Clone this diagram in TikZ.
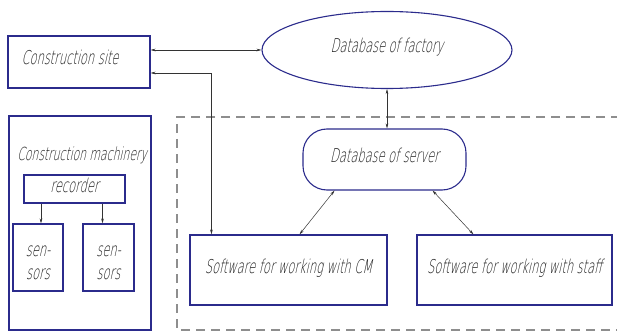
\documentclass[tikz,border=0pt]{standalone}
\usepackage{fontspec}
\usetikzlibrary{shapes.geometric,arrows.meta,calc}
\newfontfamily\gost[FakeStretch=0.6,FakeSlant=0.22]{DejaVu Sans ExtraLight}
\definecolor{boxblue}{HTML}{2B2B8C}
\definecolor{txtgray}{HTML}{1E1E1E}
\definecolor{dashgray}{HTML}{8E8E8E}
\tikzset{
  lbl/.style={font=\gost\fontsize{19}{23}\selectfont, text=txtgray},
  up/.style={text height=13pt, text depth=7pt},
  box/.style={draw=boxblue, line width=1.1pt, rectangle, inner sep=0pt, lbl},
  link/.style={draw=black!80, line width=0.5pt, {Stealth[length=5pt,width=2.6pt]}-{Stealth[length=5pt,width=2.6pt]}},
  onearr/.style={draw=black!80, line width=0.5pt, -{Stealth[length=5pt,width=2.6pt]}},
}
\newcommand\twoline[2]{\raisebox{-10pt}[0pt][0pt]{\begin{tabular}{@{}c@{}}#1\\#2\end{tabular}}}
\begin{document}
\begin{tikzpicture}[x=1pt,y=-1pt]
\useasboundingbox (0,0) rectangle (617,331);
% server-side area
\draw[dashgray, line width=1.3pt, dash pattern=on 9pt off 6pt]
  (620,117) -- (177,117) -- (177,330) -- (620,330);
% left column
\node[box, minimum width=142pt, minimum height=52pt] (site) at (79,62) {};
\node[lbl, up] (sitetitle) at (70,62) {Construction site};
\node[box, minimum width=142pt, minimum height=214pt] (mach) at (80,223) {};
\node[lbl, up, font=\gost\fontsize{18}{22}\selectfont] (machtitle) at (82,157) {Construction machinery};
\node[box, up, minimum width=101pt, minimum height=28pt] (rec) at (74.5,189) {recorder};
\node[box, minimum width=50pt, minimum height=67pt] (s1) at (38,257.5) {\twoline{sen-}{sors}};
\node[box, minimum width=51pt, minimum height=67pt] (s2) at (108.5,257.5) {\twoline{sen-}{sors}};
% databases and software
\node[box, up, ellipse, minimum width=250pt, minimum height=77pt] (fact) at (387,50) {Database of factory};
\node[box, up, rounded corners=24pt, minimum width=163pt, minimum height=61pt] (serv) at (384.5,159.5) {Database of server};
\node[box, up, minimum width=197pt, minimum height=70pt] (cm) at (288.5,270) {Software for working with CM};
\node[box, up, minimum width=195pt, minimum height=70pt] (staff) at (514.5,270) {Software for working with staff};
% connection points
\coordinate (s1top) at ($(s1.north)+(3,0)$);
\coordinate (s2top) at ($(s2.north)+(-6,0)$);
\coordinate (sitelow) at ($(site.east)+(0,11)$);
\coordinate (cmtop) at ($(cm.north west)+(22,0)$);
\coordinate (servL) at ($(serv.south)+(-50,0)$);
\coordinate (servR) at ($(serv.south)+(48,0)$);
\coordinate (cmR) at ($(cm.north)+(11,0)$);
\coordinate (staffL) at ($(staff.north)+(-41,0)$);
% connectors
\draw[link] (fact.west -| site.east) -- (fact.west);
\draw[link] (sitelow) -| (cmtop);
\draw[link] (fact.south) -- (fact.south |- serv.north);
\draw[link] (servL) -- (cmR);
\draw[link] (servR) -- (staffL);
\draw[onearr] (rec.south -| s1top) -- (s1top);
\draw[onearr] (rec.south -| s2top) -- (s2top);
\end{tikzpicture}
\end{document}
